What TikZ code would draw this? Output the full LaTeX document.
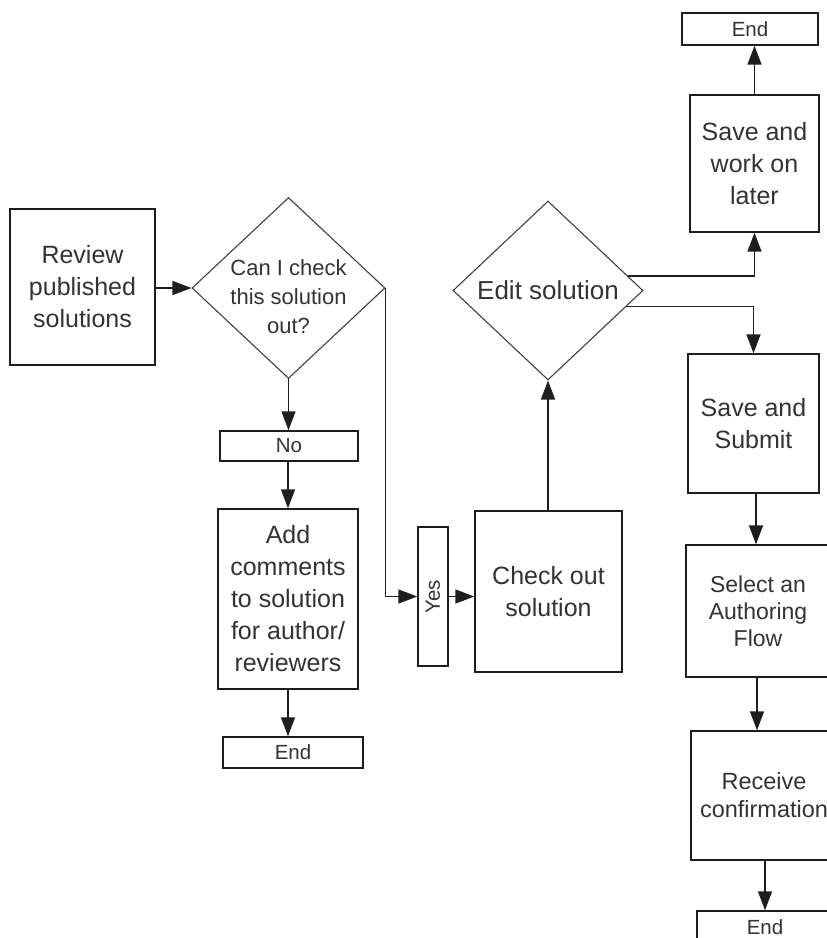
\documentclass[tikz,border=0pt]{standalone}
\usepackage{fontspec}
\setmainfont{Liberation Sans}
\usetikzlibrary{arrows.meta,shapes.geometric,calc,shadows}
\definecolor{ln}{HTML}{1E1E1E}
\definecolor{tx}{HTML}{333333}
\begin{document}
\begin{tikzpicture}[x=1pt,y=-1pt,
  box/.style={draw=ln, line width=1.4pt, fill=white, rectangle, inner sep=0pt,
    align=center, text=tx, font=\fontsize{25}{32}\selectfont,
    drop shadow={shadow xshift=1.3pt, shadow yshift=-1.3pt, fill=black!40, opacity=1}},
  tag/.style={box, font=\fontsize{20.5}{23}\selectfont},
  dia/.style={draw=ln!85, line width=1.1pt, fill=white, diamond, inner sep=0pt},
  dtext/.style={align=center, text=tx, inner sep=0pt},
  conn/.style={draw=ln, line width=1.5pt, -{Triangle[length=19pt,width=14pt]}},
  plain/.style={draw=ln, line width=1.4pt}
]
\useasboundingbox (0,0) rectangle (827,938);
\clip (0,0) rectangle (827,938);

% left column
\node[box, minimum width=145pt, minimum height=156pt] (review) at (82.5,287) {Review\\published\\solutions};
\node[dia, minimum width=193pt, minimum height=181pt] (q1) at (288.5,288) {};
\node[dtext, font=\fontsize{22}{29}\selectfont] (q1t) at (288.5,297) {Can I check\\this solution\\out?};
\node[tag, minimum width=138pt, minimum height=30pt] (no) at (289,446) {No};
\node[box, minimum width=140pt, minimum height=180pt] (add) at (288,599) {Add\\comments\\to solution\\for author/\\reviewers};
\node[tag, minimum width=140pt, minimum height=31pt] (end1) at (293,752.5) {End};

% middle
\node[tag, minimum width=30pt, minimum height=139pt] (yes) at (433,596.5) {\rotatebox{90}{Yes}};
\node[box, minimum width=147pt, minimum height=161pt] (check) at (548.5,591.5) {Check out\\solution};
\node[dia, minimum width=190pt, minimum height=179pt] (edit) at (548,290.5) {};
\node[dtext, font=\fontsize{26}{32}\selectfont] (editt) at (548,290.5) {Edit solution};

% right column
\node[box, minimum width=129pt, minimum height=137pt] (later) at (754.5,163.5) {Save and\\work on\\later};
\node[tag, minimum width=136pt, minimum height=32pt] (end2) at (750,29) {End};
\node[box, minimum width=131pt, minimum height=139pt] (submit) at (753.5,423.5) {Save and\\Submit};
\node[box, font=\fontsize{23}{27}\selectfont, minimum width=144pt, minimum height=132pt] (select) at (758,611) {Select an\\Authoring\\Flow};
\node[box, font=\fontsize{23.5}{28}\selectfont, minimum width=146pt, minimum height=129pt] (receive) at (764,795.5) {Receive\\confirmation};
\node[tag, minimum width=136pt, minimum height=32pt] (end3) at (765,927) {End};

% connectors
\draw[conn] (review.east |- q1) -- (q1.west);
\draw[conn] (q1.south) -- (q1.south |- no.north);
\draw[conn] (no.south -| add.north) -- (add.north);
\draw[conn] (add.south) -- (add.south |- end1.north);
\draw[conn] (q1.east) -- (q1.east |- yes.west) -- (yes.west);
\draw[conn] (yes.east) -- (yes.east -| check.west);
\draw[conn] (check.north -| edit.south) -- (edit.south);
\coordinate (eu) at ($(edit.east)!0.16!(edit.north)$);
\coordinate (el) at ($(edit.east)!0.18!(edit.south)$);
\draw[conn] (eu) -- (eu -| later.south) -- (later.south);
\draw[conn] (later.north) -- (later.north |- end2.south);
\draw[conn] (el) -- (el -| submit.north) -- (submit.north);
\draw[conn] ($(submit.south)+(2.5,0)$) -- ($(submit.south |- select.north)+(2.5,0)$);
\draw[conn] ($(select.south)+(-1,0)$) -- ($(select.south |- receive.north)+(-1,0)$);
\draw[conn] ($(receive.south)+(1,0)$) -- ($(receive.south |- end3.north)+(1,0)$);
\end{tikzpicture}
\end{document}
